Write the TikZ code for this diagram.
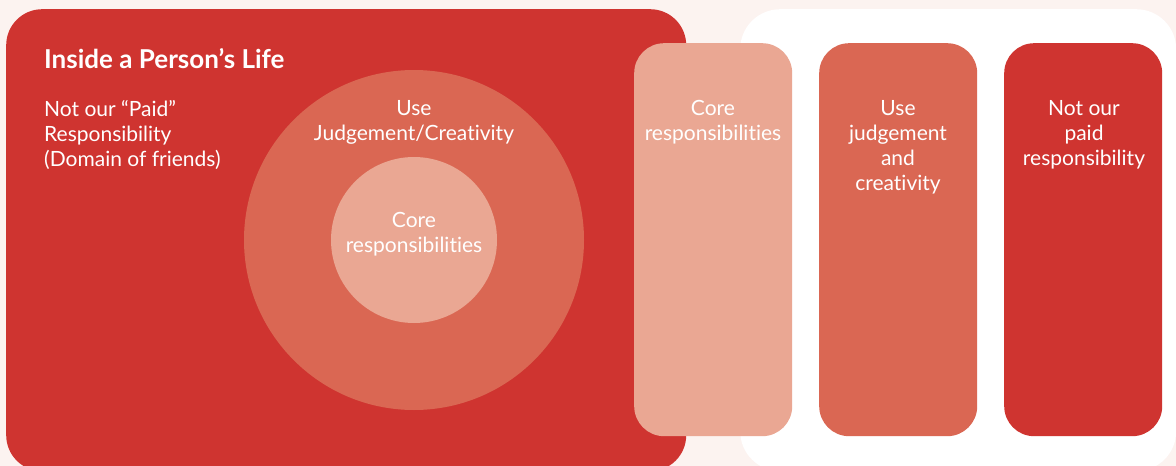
\documentclass[tikz,border=0pt]{standalone}
\usepackage{fontspec}
\setmainfont{Lato}[Ligatures={NoCommon,NoRare,NoContextual}]
\definecolor{bgpink}{HTML}{FCF3F0}
\definecolor{dred}{HTML}{CF3430}
\definecolor{mred}{HTML}{DA6753}
\definecolor{pred}{HTML}{EAA793}
\begin{document}
\begin{tikzpicture}[x=1pt,y=-1pt,
  panel/.style={draw=none,rounded corners=#1,inner sep=0pt,anchor=north west},
  colbox/.style={panel=30pt,minimum width=158pt,minimum height=393pt},
  disc/.style={circle,draw=none,inner sep=0pt},
  lbl/.style={text=white,inner sep=0pt,anchor=north,align=center,font=\fontsize{21}{25}\selectfont},
  lbll/.style={lbl,anchor=north west,align=left},
  ttl/.style={text=white,inner sep=0pt,anchor=north west,font=\fontsize{26}{30}\selectfont\bfseries}]
\fill[bgpink] (0,0) rectangle (1176,466);
\useasboundingbox (0,0) rectangle (1176,466);
\node[panel=36pt,fill=dred,minimum width=680pt,minimum height=462pt] (life) at (6,9) {};
\node[panel=40pt,fill=white,minimum width=436pt,minimum height=462pt] (work) at (740,9) {};
\node[disc,fill=mred,minimum size=340pt] (outer) at (414,240) {};
\node[disc,fill=pred,minimum size=166pt] (inner) at (414,240) {};
\node[colbox,fill=pred] (colA) at (634,43) {};
\node[colbox,fill=mred] (colB) at (819,43) {};
\node[colbox,fill=dred] (colC) at (1004,43) {};
\node[ttl] (title) at (44,48) {Inside a Person’s Life};
\node[lbll] (notpaid) at (44,100) {Not our “Paid”\\Responsibility\\(Domain of friends)};
\node[lbl] (usejc) at (414,100) {Use\\Judgement/Creativity};
\node[lbl] (corec) at (414,212) {Core\\responsibilities};
\node[lbl] (coreA) at (713,100) {Core\\responsibilities};
\node[lbl] (useB) at (898,100) {Use\\judgement\\and\\creativity};
\node[lbl] (notC) at (1084,100) {Not our\\paid\\responsibility};
\end{tikzpicture}
\end{document}
